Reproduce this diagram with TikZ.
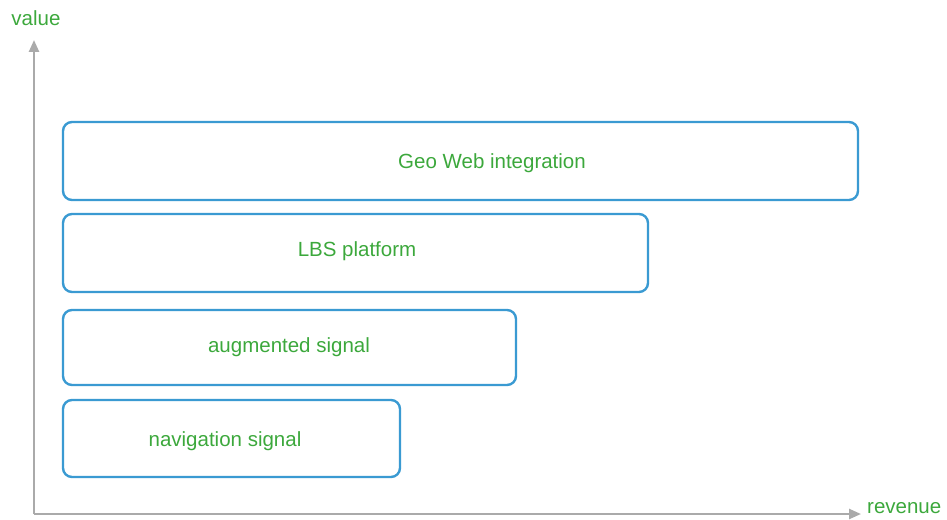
\documentclass[tikz,border=0pt]{standalone}
\usepackage{fontspec}
\setmainfont{Liberation Sans}
\usetikzlibrary{arrows.meta}

\definecolor{axisgray}{RGB}{170,170,170}
\definecolor{boxblue}{RGB}{58,154,210}
\definecolor{txtgreen}{RGB}{60,168,60}

\tikzset{
    layerbox/.style={draw=boxblue, line width=2.4pt, rounded corners=9pt, inner sep=0pt},
    layertext/.style={text=txtgreen, font=\fontsize{20.5}{24}\selectfont},
    axislabel/.style={text=txtgreen, font=\fontsize{20.5}{24}\selectfont, inner sep=1pt},
    axisline/.style={draw=axisgray, line width=2.4pt, -{Triangle[length=12pt,width=10pt]}}
}

\begin{document}
\begin{tikzpicture}[x=1pt,y=-1pt]
    \useasboundingbox (0,0) rectangle (947,519);

        % axes
        \coordinate (origin) at (34,514);
        \coordinate (ytop) at (34,40);
        \coordinate (xend) at (861,514);
        \draw[axisline] (origin) -- (ytop);
        \draw[axisline] (origin) -- (xend);
        \node[axislabel] (value) at (36,18) {value};
        \node[axislabel, anchor=base west] (revenue) at (866,513) {revenue};

        % layers, bottom to top
        \node[layerbox, minimum width=337pt, minimum height=77pt] (nav) at (231.5,438.5) {};
        \node[layertext] (navtext) at (225,441) {navigation signal};

        \node[layerbox, minimum width=453pt, minimum height=75pt] (aug) at (289.5,347.5) {};
        \node[layertext] (augtext) at (289,347) {augmented signal};

        \node[layerbox, minimum width=585pt, minimum height=78pt] (lbs) at (355.5,253) {};
        \node[layertext] (lbstext) at (357,251) {LBS platform};

        \node[layerbox, minimum width=795pt, minimum height=78pt] (geo) at (460.5,161) {};
        \node[layertext] (geotext) at (492,163) {Geo Web integration};

\end{tikzpicture}
\end{document}
